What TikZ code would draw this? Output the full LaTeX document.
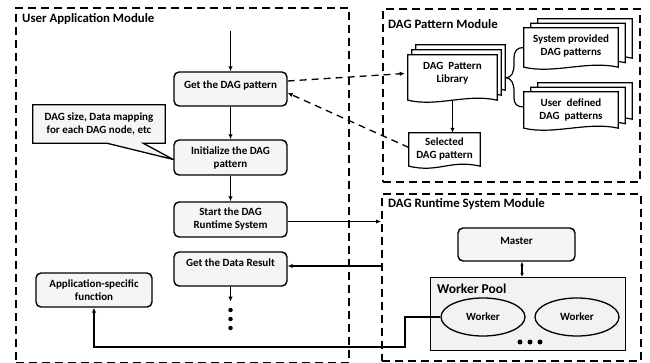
\documentclass[tikz,border=0pt]{standalone}
\usepackage{fontspec}
\setmainfont{Carlito}
\usetikzlibrary{arrows.meta,backgrounds,calc,shapes.geometric}
\newcommand\mydocpath[3]{([shift={(#2,#3)}]#1.north west) -- ([shift={(#2,#3)}]#1.north east) -- ([shift={(#2,#3)}]#1.south east) .. controls +(-30pt,7pt) and +(30pt,-7pt) .. ([shift={(#2,#3)}]#1.south west) -- cycle}
\begin{document}
\begin{tikzpicture}[x=1pt,y=-1pt,
  every node/.style={font=\bfseries\fontsize{11}{13}\selectfont},
  module/.style={draw, line width=1.6pt, dash pattern=on 8pt off 5pt, inner sep=0pt, anchor=north west},
  title/.style={anchor=base west, inner sep=0pt, font=\bfseries\fontsize{12.8}{14}\selectfont},
  rbox/.style={draw, line width=1.4pt, rounded corners=5pt, fill=black!4, align=center, minimum width=113pt, minimum height=34pt, inner sep=2pt},
  docn/.style={align=center, inner sep=0pt},
  docline/.style={draw, line width=1.2pt, fill=white},
  arr/.style={line width=1.3pt, -{Latex[length=5pt,width=4.5pt]}},
  darr/.style={arr, dash pattern=on 7pt off 5pt},
  dot/.style={circle, fill, inner sep=0pt, minimum size=4.5pt},
]
\useasboundingbox (0,0) rectangle (650,363);

% modules
\node[module, minimum width=333pt, minimum height=355pt] (uam) at (15,7) {};
\node[module, minimum width=257pt, minimum height=173pt] (dpm) at (382,8) {};
\node[module, minimum width=259pt, minimum height=167pt] (rtm) at (381,193) {};
\node[title] (uamt) at (22,23) {User Application Module};
\node[title] (dpmt) at (388,28.5) {DAG Pattern Module};
\node[title] (rtmt) at (388,208) {DAG Runtime System Module};

% user application column
\coordinate (entry) at (230.5,31);
\node[rbox, text depth=9pt] (get) at (230.5,89) {Get the DAG pattern};
\node[rbox, minimum height=35pt] (init) at (230.5,157.5) {Initialize the DAG\\pattern};
\node[rbox, minimum height=35pt] (start) at (230.5,219.5) {Start the DAG\\Runtime System};
\node[rbox, text depth=13pt] (getres) at (230.5,269) {Get the Data Result};
\node[rbox, minimum width=116pt] (app) at (94,290) {Application-specific\\function};
\node[align=center, minimum width=132pt, minimum height=38pt, inner sep=0pt] (note) at (99,124) {DAG size, Data mapping\\for each DAG node, etc};
\node[dot] (d1) at (230.5,310) {};
\node[dot] (d2) at (230.5,319) {};
\node[dot] (d3) at (230.5,328) {};

% DAG pattern module
\node[docn, minimum width=89pt, minimum height=45pt, text depth=10pt] (lib) at (452.5,77.5) {DAG~~Pattern\\Library};
\node[docn, minimum width=71pt, minimum height=33pt] (sel) at (444.5,149.5) {Selected\\DAG pattern};
\node[docn, minimum width=94pt, minimum height=39pt, text depth=5pt] (sys) at (571,47.5) {System provided\\DAG patterns};
\node[docn, minimum width=94pt, minimum height=36pt] (usr) at (571,110) {User~~defined\\DAG~~patterns};
\coordinate (bt) at ([xshift=8pt]lib.east);

% runtime module
\node[rbox, minimum width=117pt, minimum height=33pt, text depth=8pt] (master) at (516.5,244.5) {Master};
\node[draw, fill=black!5, line width=1pt, minimum width=195pt, minimum height=73pt, anchor=north west, inner sep=0pt] (pool) at (430,277) {};
\node[title, font=\bfseries\fontsize{13.5}{15}\selectfont] (poolt) at (437,293) {Worker Pool};
\node[ellipse, draw, line width=1.3pt, minimum width=84pt, minimum height=38pt] (w1) at (483,317) {Worker};
\node[ellipse, draw, line width=1.3pt, minimum width=84pt, minimum height=38pt] (w2) at (577,317) {Worker};
\node[dot, minimum size=5pt] (p1) at (520,342) {};
\node[dot, minimum size=5pt] (p2) at (530,342) {};
\node[dot, minimum size=5pt] (p3) at (540,342) {};
\coordinate (bend) at (405,347);

\begin{pgfonlayer}{background}
  \draw[docline] \mydocpath{lib}{8pt}{10pt};
  \draw[docline] \mydocpath{lib}{4pt}{5pt};
  \draw[docline] \mydocpath{lib}{0pt}{0pt};
  \draw[docline] \mydocpath{sel}{0pt}{0pt};
  \draw[docline] \mydocpath{sys}{14pt}{9pt};
  \draw[docline] \mydocpath{sys}{7pt}{4.5pt};
  \draw[docline] \mydocpath{sys}{0pt}{0pt};
  \draw[docline] \mydocpath{usr}{14pt}{9pt};
  \draw[docline] \mydocpath{usr}{7pt}{4.5pt};
  \draw[docline] \mydocpath{usr}{0pt}{0pt};
  \draw[line width=1.3pt, fill=black!4, line join=miter] (note.north west) -- (note.north east) -- (note.south east)
     -- ([xshift=-22pt]note.south east) -- ([yshift=-2pt]init.west) -- ([xshift=74pt]note.south west) -- (note.south west) -- cycle;
\end{pgfonlayer}

% connectors
\draw[arr] (entry) -- (get.north);
\draw[arr] (get.south) -- (init.north);
\draw[arr] (init.south) -- (start.north);
\draw[arr] (getres.south) -- ([yshift=6pt]d1.north);
\draw[darr] ([yshift=8pt]get.east) -- ([shift={(-3pt,4pt)}]lib.west);
\draw[darr] ([yshift=2pt]sel.west) -- ([yshift=-4pt]get.east);
\draw[arr] (lib.south) -- (lib.south |- sel.north);
\draw[arr] ([yshift=-2pt]start.east) -- ([yshift=-2pt]start.east -| rtm.west);
\draw[arr] ([yshift=3pt]getres.east -| rtm.west) -- ([yshift=3pt]getres.east);
\draw[line width=1.2pt, {Latex[length=4pt,width=3.5pt]}-{Latex[length=4pt,width=3.5pt]}] ([xshift=5.5pt]master.south) -- ([xshift=5.5pt]master.south |- pool.north);
\draw[line width=1.6pt, -{Latex[length=5pt,width=4.5pt]}] (w1.west) -| (bend) -| (app.south);
\draw[line width=1.2pt] (bt) .. controls (512,78) and (514,72) .. (514,64) -- (514,58) .. controls (514,51) and (517,47.5) .. (sys.west);
\draw[line width=1.2pt] (bt) .. controls (512,78) and (514,84) .. (514,92) -- (514,98) .. controls (514,104) and (517,107) .. ([yshift=3pt]usr.west);
\end{tikzpicture}
\end{document}
